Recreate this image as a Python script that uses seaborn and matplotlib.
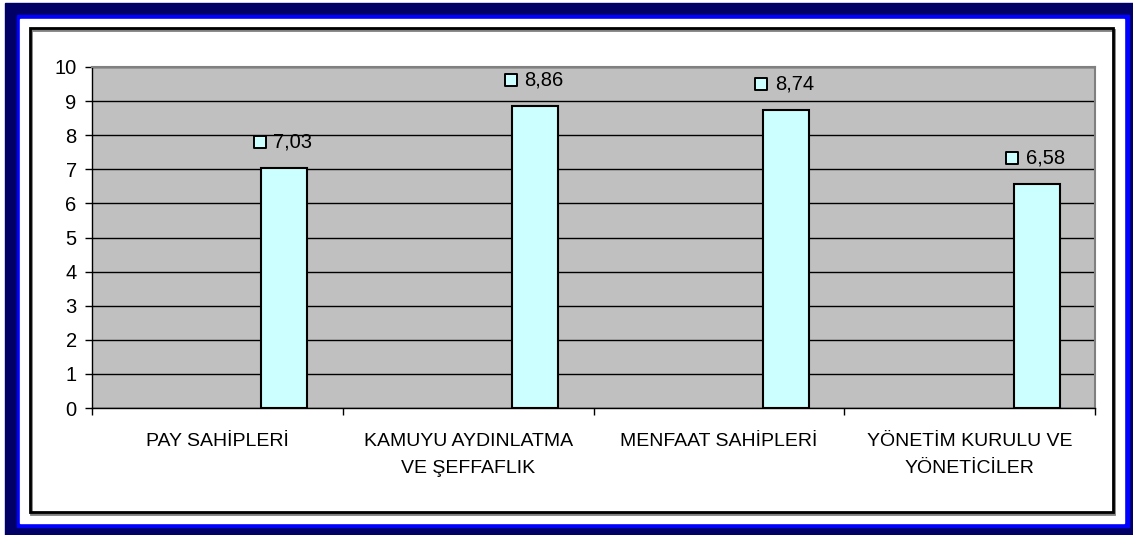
import numpy as np
import pandas as pd
import seaborn as sns
import matplotlib.pyplot as plt
import matplotlib.transforms as mtransforms
from matplotlib.patches import Rectangle

# Chart data
categories = ["PAY SAHİPLERİ", "KAMUYU AYDINLATMA\nVE ŞEFFAFLIK",
              "MENFAAT SAHİPLERİ", "YÖNETİM KURULU VE\nYÖNETİCİLER"]
scores = [7.03, 8.86, 8.74, 6.58]
y_ticks = list(range(0, 11))

W, H = 1133, 535
BAR_COLOR = "#CCFFFF"
PLOT_BG = "#C0C0C0"
FS = 14.5

sns.set_theme(style="white")
plt.rcParams["font.family"] = ["Liberation Sans", "DejaVu Sans"]
plt.rcParams["text.color"] = "black"
plt.rcParams["xtick.labelcolor"] = "black"
plt.rcParams["ytick.labelcolor"] = "black"

fig = plt.figure(figsize=(W / 100, H / 100), dpi=100)

# Frame drawn in pixel coordinates on a background axes
bg = fig.add_axes([0, 0, 1, 1])
bg.set_xlim(0, W)
bg.set_ylim(H, 0)
bg.axis("off")
bg.add_patch(Rectangle((5, 3), W - 5, H - 3, color="#000066"))
bg.add_patch(Rectangle((17, 15), 1129 - 17, 527 - 15, color="#0000FF"))
bg.add_patch(Rectangle((20, 19), 1124 - 20, 523 - 19, color="white"))
bg.add_patch(Rectangle((31, 30), 1113 - 30, 512 - 28, facecolor="none",
                       edgecolor="#808080", lw=2))
bg.add_patch(Rectangle((30, 28), 1113 - 30, 512 - 28, facecolor="none",
                       edgecolor="black", lw=2))

# Plot area
ax = fig.add_axes([92 / W, 1 - 408 / H, (1095 - 92) / W, (408 - 67) / H])
ax.set_facecolor(PLOT_BG)

# Bar sits in the right part of each category slot (Excel clustered layout)
offset = 0.267
df = pd.DataFrame({"pos": np.arange(len(categories)) + offset, "score": scores})
sns.barplot(data=df, x="pos", y="score", native_scale=True, width=0.183,
            color=BAR_COLOR, saturation=1, edgecolor="black", linewidth=1.5,
            ax=ax, zorder=3)

ax.set_xlim(-0.5, len(categories) - 0.5)
ax.set_ylim(0, 10)
ax.set_yticks(y_ticks)
ax.set_yticklabels([str(t) for t in y_ticks], fontsize=FS)
ax.set_xticks(np.arange(len(categories) + 1) - 0.5)
ax.set_xticklabels([])
ax.set_xticks(np.arange(len(categories)), minor=True)
ax.set_xticklabels(categories, minor=True, fontsize=FS - 0.5, linespacing=1.75)
ax.tick_params(axis="x", which="minor", length=0, pad=18)
ax.tick_params(axis="x", which="major", length=5, width=1, color="black",
               direction="out", bottom=True)
ax.tick_params(axis="y", length=5, width=1, color="black", direction="out",
               left=True, pad=6)
ax.set_xlabel("")
ax.set_ylabel("")

ax.yaxis.grid(True, color="black", lw=1)
ax.set_axisbelow(True)
for side in ["left", "bottom"]:
    ax.spines[side].set_color("black")
    ax.spines[side].set_linewidth(1)
for side in ["top", "right"]:
    ax.spines[side].set_color("#808080")
    ax.spines[side].set_linewidth(1.5)

# Data labels: legend key square + value with comma decimal
key_tr = mtransforms.offset_copy(ax.transData, fig, x=-24.5, y=26, units="dots")
txt_tr = mtransforms.offset_copy(ax.transData, fig, x=-11, y=26, units="dots")
for x, v in zip(df["pos"], scores):
    ax.scatter([x], [v], marker="s", s=72, facecolor=BAR_COLOR,
               edgecolor="black", linewidth=1.4, transform=key_tr, zorder=5,
               clip_on=False)
    ax.text(x, v, f"{v:.2f}".replace(".", ","), transform=txt_tr,
            fontsize=FS, ha="left", va="center", color="black", zorder=5)

fig.savefig("out.png", dpi=100)
